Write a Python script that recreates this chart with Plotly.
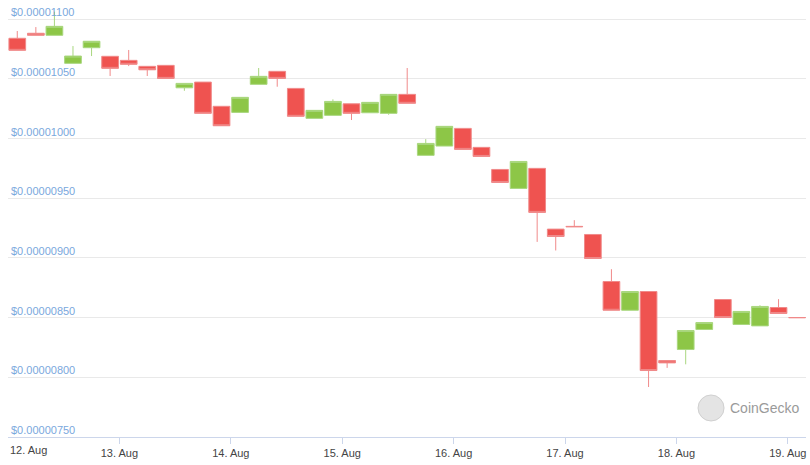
import pandas as pd
import plotly.graph_objects as go

# 4-hour candles (values in units of 1e-8 USD)
opens = [1084.1, 1088.3, 1086.6, 1063.1, 1076.2, 1069.0, 1065.6, 1060.6, 1061.4, 1042.6,
         1047.4, 1027.1, 1022.0, 1045.5, 1056.4, 1042.1, 1017.0, 1019.5, 1029.2, 1021.7,
         1021.2, 1037.1, 986.0, 993.8, 1008.6, 992.7, 974.2, 958.3, 975.1, 924.2,
         926.5, 919.7, 880.3, 856.2, 871.9, 814.1, 823.3, 840.1, 865.2, 844.3,
         843.1, 858.5, 850.1]
highs = [1090.2, 1093.5, 1106.4, 1077.6, 1081.6, 1069.0, 1074.3, 1060.6, 1061.4, 1046.3,
         1047.4, 1027.1, 1034.6, 1059.2, 1056.4, 1042.1, 1023.7, 1032.9, 1029.2, 1030.4,
         1037.1, 1059.2, 999.6, 1010.3, 1008.6, 992.7, 974.2, 980.9, 975.1, 924.2,
         931.7, 919.7, 890.6, 871.9, 871.9, 814.1, 839.2, 845.9, 865.2, 855.2,
         860.4, 865.5, 850.1]
lows = [1074.0, 1086.6, 1086.6, 1063.1, 1069.2, 1052.5, 1060.8, 1052.5, 1050.5, 1040.1,
        1021.2, 1010.8, 1022.0, 1045.5, 1043.5, 1018.7, 1017.0, 1019.5, 1015.6, 1021.7,
        1020.0, 1029.6, 986.0, 993.8, 991.0, 985.1, 963.3, 958.3, 913.5, 906.3,
        926.2, 899.6, 856.2, 856.2, 791.9, 807.9, 810.9, 840.1, 850.1, 844.3,
        843.1, 853.5, 850.0]
closes = [1074.0, 1086.6, 1094.1, 1069.2, 1081.6, 1058.9, 1062.3, 1057.7, 1050.5, 1046.3,
          1021.2, 1010.8, 1034.6, 1052.2, 1050.5, 1018.7, 1023.7, 1031.2, 1021.2, 1030.4,
          1037.1, 1029.6, 996.0, 1010.3, 991.0, 985.1, 963.3, 980.9, 938.2, 918.0,
          926.2, 899.6, 856.2, 871.9, 805.7, 812.1, 839.2, 845.9, 850.1, 855.2,
          859.4, 853.5, 850.0]
times = pd.date_range("2023-08-12 02:00", periods=len(opens), freq="4h")

unit = 1e-8
y_ticks = [750, 800, 850, 900, 950, 1000, 1050, 1100]
x_ticks = pd.date_range("2023-08-12", "2023-08-19", freq="D")
x_labels = ["12. Aug", "13. Aug", "14. Aug", "15. Aug", "16. Aug", "17. Aug", "18. Aug", "19. Aug"]

fig = go.Figure(go.Candlestick(
    x=times,
    open=[v * unit for v in opens],
    high=[v * unit for v in highs],
    low=[v * unit for v in lows],
    close=[v * unit for v in closes],
    increasing=dict(line=dict(color="#a9d77f", width=1), fillcolor="#8dc647"),
    decreasing=dict(line=dict(color="#f08a8a", width=1), fillcolor="#ef5350"),
    whiskerwidth=0,
    hoverinfo="none",
))

fig.update_layout(
    width=810, height=465,
    margin=dict(l=8, r=4, t=2, b=28),
    paper_bgcolor="white", plot_bgcolor="white",
    showlegend=False,
    boxgap=0.1, boxgroupgap=0,
    font=dict(family="Liberation Sans", size=11),
    xaxis=dict(
        range=["2023-08-12 00:00", "2023-08-19 03:55"],
        rangeslider=dict(visible=False),
        tickvals=list(x_ticks), ticktext=[""] + x_labels[1:],
        showgrid=False, zeroline=False,
        showline=True, linecolor="#ccd6eb", linewidth=1,
        ticks="outside", ticklen=6, tickcolor="#ccd6eb",
        tickfont=dict(color="#444444", size=11),
    ),
    yaxis=dict(
        range=[750 * unit, 1114.5 * unit],
        tickvals=[v * unit for v in y_ticks],
        tickformat="$.8f",
        ticklabelposition="inside",
        ticklabelshift=-7,
        ticklabelstandoff=0,
        tickfont=dict(color="#7aa8dd", size=11),
        showgrid=True, gridcolor="#e9e9e9", gridwidth=1,
        zeroline=False, showline=False, ticks="",
    ),
    annotations=[
        dict(x=x_ticks[0], y=0, xref="x", yref="paper", text=x_labels[0],
             xanchor="left", yanchor="top", yshift=-5, showarrow=False,
             font=dict(color="#444444", size=11)),
        dict(x=0.902, y=0.0667, xref="paper", yref="paper", text="CoinGecko",
             xanchor="left", yanchor="middle", showarrow=False,
             font=dict(color="#9a9a9a", size=14, family="Liberation Sans")),
    ],
    shapes=[
        dict(type="circle", xref="paper", yref="paper", xsizemode="pixel", ysizemode="pixel",
             xanchor=0.881, yanchor=0.0667, x0=-13, x1=13, y0=-13, y1=13,
             fillcolor="#e4e4e4", line=dict(color="#d0d0d0", width=1)),
    ],
)

fig.write_html("out.html")
